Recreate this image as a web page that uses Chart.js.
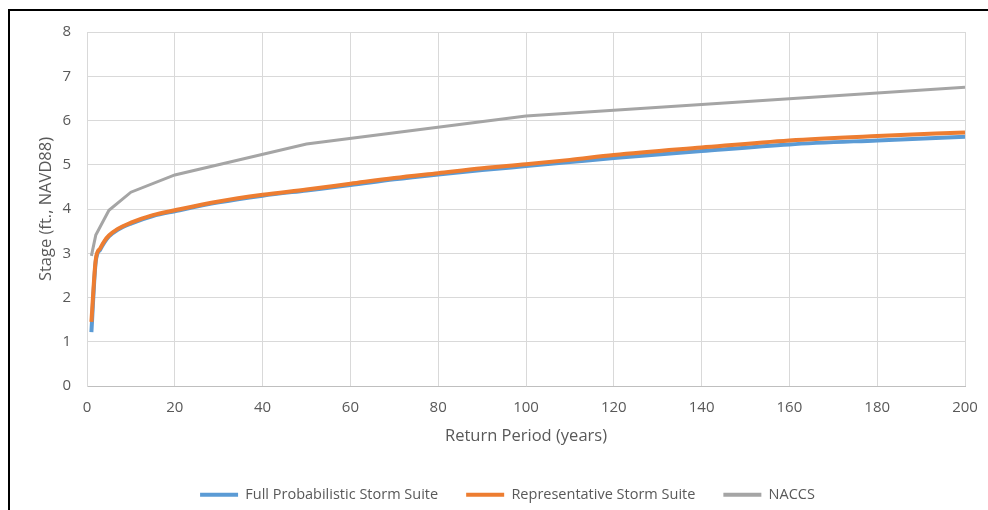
<!DOCTYPE html>
<html>
<head>
<meta charset="utf-8">
<script src="https://cdn.jsdelivr.net/npm/chart.js@4"></script>
<style>
  html, body { margin: 0; padding: 0; background: #fff; }
  #wrap { position: relative; width: 988px; height: 510px; overflow: hidden; }
  #frame { position: absolute; left: 8px; top: 9px; width: 1000px; height: 520px;
           border-left: 2px solid #000; border-top: 2px solid #000; }
  #chart { position: absolute; left: 0; top: 0; }
</style>
</head>
<body>
<div id="wrap">
  <div id="frame"></div>
  <canvas id="chart" width="988" height="510"></canvas>
</div>
<script>
// return periods (years) and stages (ft, NAVD88)
const suitePeriods = [1, 2, 3, 4, 5, 7, 10, 15, 20, 30, 40, 50, 60, 70, 80, 90, 100, 110, 120, 140, 160, 180, 200];
const fullSuite = [1.22, 2.82, 3.08, 3.25, 3.38, 3.53, 3.67, 3.84, 3.95, 4.15, 4.30, 4.42, 4.54, 4.67, 4.78, 4.88, 4.97, 5.06, 5.15, 5.31, 5.46, 5.55, 5.63];
const repSuite = [1.45, 2.86, 3.11, 3.28, 3.40, 3.55, 3.69, 3.86, 3.97, 4.17, 4.32, 4.44, 4.57, 4.70, 4.81, 4.92, 5.01, 5.11, 5.22, 5.39, 5.55, 5.65, 5.73];

const naccsPeriods = [1, 2, 5, 10, 20, 50, 100, 200];
const naccs = [2.94, 3.41, 3.97, 4.38, 4.77, 5.47, 6.10, 6.75];

const seriesNames = ["Full Probabilistic Storm Suite", "Representative Storm Suite", "NACCS"];

function toPoints(xs, ys) {
    return xs.map((x, i) => ({ x: x, y: ys[i] }));
}

const font = "'Open Sans', 'Liberation Sans', sans-serif";
const PLOT_BOTTOM = 386;
const LEGEND_SHIFT = 2;

// move the legend down without changing the plot area
const legendShift = {
    id: "legendShift",
    afterLayout(chart) {
        chart.legend.top += LEGEND_SHIFT;
        chart.legend.bottom += LEGEND_SHIFT;
    }
};

new Chart(document.getElementById("chart"), {
    type: "line",
    data: {
        datasets: [
            {
                label: seriesNames[0],
                data: toPoints(suitePeriods, fullSuite),
                borderColor: "#5B9BD5",
                backgroundColor: "#5B9BD5",
                borderWidth: 4,
                cubicInterpolationMode: "monotone",
                order: 2
            },
            {
                label: seriesNames[1],
                data: toPoints(suitePeriods, repSuite),
                borderColor: "#ED7D31",
                backgroundColor: "#ED7D31",
                borderWidth: 4,
                cubicInterpolationMode: "monotone",
                order: 1
            },
            {
                label: seriesNames[2],
                data: toPoints(naccsPeriods, naccs),
                borderColor: "#A5A5A5",
                backgroundColor: "#A5A5A5",
                borderWidth: 3,
                tension: 0,
                order: 0
            }
        ]
    },
    options: {
        responsive: false,
        animation: false,
        elements: { point: { radius: 0 }, line: { borderCapStyle: "butt" } },
        layout: { padding: { left: 50, right: 23, top: 32, bottom: 0 } },
        plugins: {
            tooltip: { enabled: false },
            legend: {
                position: "bottom",
                labels: {
                    boxWidth: 38,
                    boxHeight: 4,
                    padding: 28,
                    color: "#595959",
                    font: { family: font, size: 14.5 },
                    sort: (a, b) => a.datasetIndex - b.datasetIndex,
                    generateLabels: chart => Chart.defaults.plugins.legend.labels.generateLabels(chart)
                        .map(item => Object.assign(item, { lineWidth: 0 }))
                }
            }
        },
        scales: {
            x: {
                type: "linear",
                min: 0,
                max: 200,
                ticks: { stepSize: 20, padding: 13, color: "#595959", font: { family: font, size: 15 } },
                grid: { color: "#D9D9D9", drawTicks: false },
                border: { color: "#BFBFBF" },
                title: { display: true, text: "Return Period (years)", color: "#595959",
                         font: { family: font, size: 16.5 }, padding: { top: 0, bottom: 11.5 } },
                afterFit: s => {
                    s.height = s.chart.height - PLOT_BOTTOM - s.chart.legend.height;
                    s.paddingLeft = 0;
                    s.paddingRight = 0;
                }
            },
            y: {
                min: 0,
                max: 8,
                ticks: { stepSize: 1, padding: 16, color: "#595959", font: { family: font, size: 15 } },
                grid: { color: "#D9D9D9", drawTicks: false },
                border: { color: "#D9D9D9" },
                title: { display: true, text: "Stage (ft., NAVD88)", color: "#595959",
                         font: { family: font, size: 16.5 }, padding: { top: -14, bottom: 0 } },
                afterFit: s => { s.width = 37; }
            }
        }
    },
    plugins: [legendShift]
});
</script>
</body>
</html>
